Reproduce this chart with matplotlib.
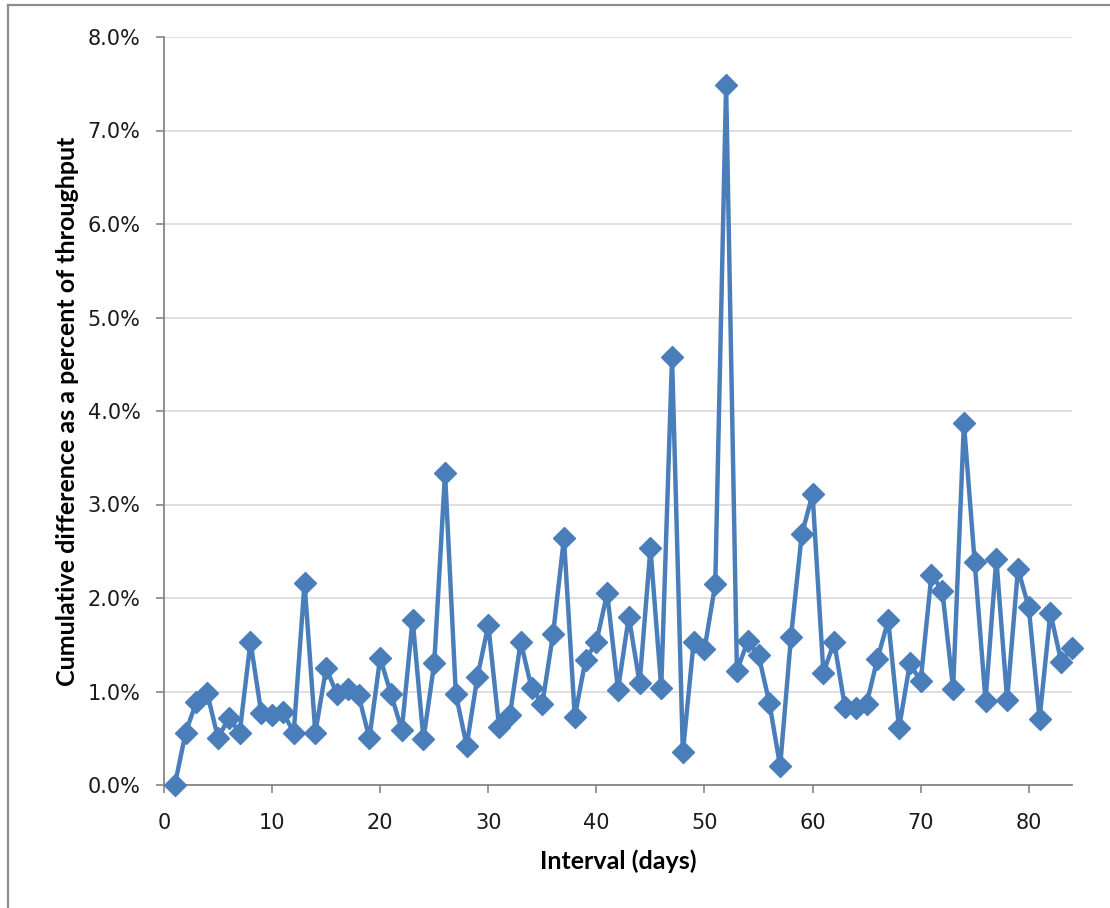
import matplotlib
matplotlib.use("Agg")
import matplotlib.pyplot as plt
from matplotlib.lines import Line2D
from matplotlib.ticker import FuncFormatter

days = list(range(1, 85))
pct = [0.00, 0.56, 0.89, 0.98, 0.50, 0.72, 0.56, 1.53, 0.77, 0.75,
       0.78, 0.56, 2.16, 0.56, 1.25, 0.97, 1.03, 0.96, 0.50, 1.36,
       0.97, 0.59, 1.77, 0.49, 1.30, 3.34, 0.97, 0.42, 1.16, 1.71,
       0.62, 0.75, 1.53, 1.04, 0.87, 1.62, 2.64, 0.73, 1.34, 1.53,
       2.05, 1.02, 1.80, 1.09, 2.53, 1.04, 4.58, 0.35, 1.53, 1.45,
       2.15, 7.49, 1.22, 1.54, 1.39, 0.88, 0.20, 1.58, 2.68, 3.11,
       1.20, 1.53, 0.83, 0.82, 0.87, 1.35, 1.76, 0.61, 1.30, 1.11,
       2.25, 2.08, 1.03, 3.87, 2.38, 0.90, 2.42, 0.91, 2.31, 1.90,
       0.71, 1.84, 1.32, 1.47]

x_ticks = [0, 10, 20, 30, 40, 50, 60, 70, 80]
y_ticks = [0, 1, 2, 3, 4, 5, 6, 7, 8]
x_label = "Interval (days)"
y_label = "Cumulative difference as a percent of throughput"

W, H = 1110, 908
fig = plt.figure(figsize=(W / 100, H / 100), dpi=100)
ax = fig.add_axes([164 / W, 1 - 785 / H, (1072 - 164) / W, (785 - 37) / H])

blue = "#4a7ebb"
ax.plot(days, pct, color=blue, linewidth=3.2, marker="D", markersize=11,
        markerfacecolor=blue, markeredgecolor=blue, zorder=3, clip_on=False)

ax.set_xlim(0, 84)
ax.set_ylim(0, 8)
ax.set_xticks(x_ticks)
ax.set_yticks(y_ticks)
ax.yaxis.set_major_formatter(FuncFormatter(lambda v, p: f"{v:.1f}%"))
ax.grid(axis="y", color="#d9d9d9", linewidth=1.2, zorder=0)
ax.set_axisbelow(True)

for s in ("top", "right"):
    ax.spines[s].set_visible(False)
for s in ("left", "bottom"):
    ax.spines[s].set_color("#868686")
    ax.spines[s].set_linewidth(1.3)

ax.tick_params(axis="both", colors="#868686", length=6, width=1.2,
               labelcolor="#1a1a1a", labelsize=15)
ax.tick_params(axis="x", pad=14)
ax.tick_params(axis="y", pad=11)
for lab in ax.get_xticklabels() + ax.get_yticklabels():
    lab.set_fontfamily("DejaVu Sans")

ax.set_xlabel(x_label, fontsize=18, fontweight="bold", family="Lato",
              labelpad=12)
ax.set_ylabel(y_label, fontsize=18, fontweight="bold", family="Lato",
              labelpad=6)

# chart border
fig.add_artist(Line2D([8 / W, 8 / W], [0, 1 - 5 / H], transform=fig.transFigure,
                      color="#8c8c8c", linewidth=1.6))
fig.add_artist(Line2D([8 / W, 1], [1 - 5 / H, 1 - 5 / H], transform=fig.transFigure,
                      color="#8c8c8c", linewidth=1.6))

fig.savefig("out.png", dpi=100)
